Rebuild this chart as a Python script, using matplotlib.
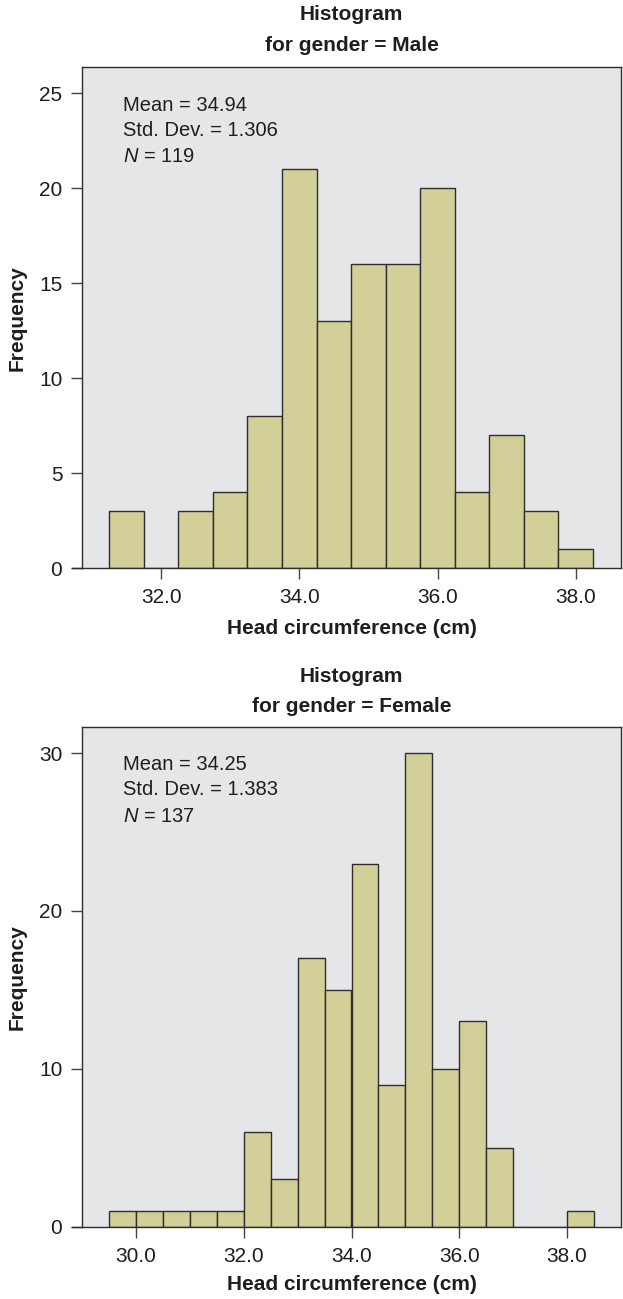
import numpy as np
import matplotlib
matplotlib.use("Agg")
from matplotlib import pyplot as plt

# male histogram, bins of 0.5 cm
male_edges = [31.25, 31.75, 32.25, 32.75, 33.25, 33.75, 34.25, 34.75,
              35.25, 35.75, 36.25, 36.75, 37.25, 37.75, 38.25]
male_counts = [3, 0, 3, 4, 8, 21, 13, 16, 16, 20, 4, 7, 3, 1]

# female histogram
female_edges = [29.5, 30.0, 30.5, 31.0, 31.5, 32.0, 32.5, 33.0, 33.5, 34.0,
                34.5, 35.0, 35.5, 36.0, 36.5, 37.0, 37.5, 38.0, 38.5]
female_counts = [1, 1, 1, 1, 1, 6, 3, 17, 15, 23, 9, 30, 10, 13, 5, 0, 0, 1]

male_stats = ["Mean = 34.94", "Std. Dev. = 1.306", "119"]
female_stats = ["Mean = 34.25", "Std. Dev. = 1.383", "137"]

x_ticks = [30.0, 32.0, 34.0, 36.0, 38.0]
male_yticks = [0, 5, 10, 15, 20, 25]
female_yticks = [0, 10, 20, 30]

plt.rcParams['font.family'] = ['Liberation Sans', 'DejaVu Sans']
plt.rcParams['mathtext.fontset'] = 'custom'
plt.rcParams['mathtext.it'] = 'Liberation Sans:italic'
plt.rcParams['mathtext.rm'] = 'Liberation Sans'

BG = '#e5e6e8'
BAR = '#d3cf98'
EDGE = '#2e2e2e'
TXT = '#1e1e1e'

W, H = 623, 1299
fig = plt.figure(figsize=(W / 100, H / 100), dpi=100)
# axes boxes measured in pixels: left, right, top, bottom
caja1 = (82.3, 620.7, 67.3, 568.3)
caja2 = (82.3, 620.7, 726.7, 1226.7)


def ejes(caja):
	l, r, t, b = caja
	return fig.add_axes([l / W, 1 - b / H, (r - l) / W, (b - t) / H])


def histo(ax, caja, edges, counts, stats, yticks, xlim, ylim, titulo, tit_off, xl_off):
	l, r, t, b = caja
	hpx = b - t
	wpx = r - l
	edges = np.array(edges)
	ax.bar(edges[:-1], counts, width=np.diff(edges), align='edge',
		color=BAR, edgecolor=EDGE, linewidth=1.0, zorder=2)
	ax.set_facecolor(BG)
	ax.set_xlim(xlim)
	ax.set_ylim(ylim)
	ticks = [x for x in x_ticks if xlim[0] < x < xlim[1]]
	ax.set_xticks(ticks)
	ax.set_xticklabels(["%.1f" % x for x in ticks])
	ax.set_yticks(yticks)
	ax.tick_params(axis='both', labelsize=15, length=7.6, width=1.0,
		color='#444444', labelcolor=TXT, pad=6.8)
	for s in ax.spines.values():
		s.set_color(EDGE)
		s.set_linewidth(1.0)
	# axis line sticks out a little to the left
	ax.plot([-10.6 / wpx, 0], [0, 0], transform=ax.transAxes, color=EDGE,
		lw=1.0, clip_on=False)
	ax.set_xlabel("Head circumference (cm)", fontsize=15, fontweight='bold',
		color=TXT)
	ax.xaxis.set_label_coords(0.5, -xl_off / hpx)
	ax.xaxis.label.set_va('center')
	ax.set_ylabel("Frequency", fontsize=15, fontweight='bold', color=TXT)
	ax.yaxis.set_label_coords((17.5 - l) / wpx, 0.5)
	ax.yaxis.label.set_va('center')
	ax.text(0.5, 1 + tit_off[0] / hpx, "Histogram", transform=ax.transAxes,
		ha='center', va='center', fontsize=15, fontweight='bold', color=TXT)
	ax.text(0.5, 1 + tit_off[1] / hpx, "for gender = " + titulo,
		transform=ax.transAxes, ha='center', va='center', fontsize=15,
		fontweight='bold', color=TXT)
	x0 = 41.0 / wpx
	ax.text(x0, 1 - 37.7 / hpx, stats[0], transform=ax.transAxes,
		fontsize=14.5, va='center', color=TXT)
	ax.text(x0, 1 - 63.0 / hpx, stats[1], transform=ax.transAxes,
		fontsize=14.5, va='center', color=TXT)
	ax.text(x0, 1 - 89.4 / hpx, "$N$ = " + stats[2], transform=ax.transAxes,
		fontsize=14.5, va='center', color=TXT)


ax1 = ejes(caja1)
ax2 = ejes(caja2)
histo(ax1, caja1, male_edges, male_counts, male_stats, male_yticks,
	(30.86, 38.65), (0, 26.37), "Male", (53.3, 21.6), 60.7)
histo(ax2, caja2, female_edges, female_counts, female_stats, female_yticks,
	(29.0, 39.0), (0, 31.67), "Female", (50.0, 20.0), 57.3)

fig.savefig("out.png", dpi=100)
